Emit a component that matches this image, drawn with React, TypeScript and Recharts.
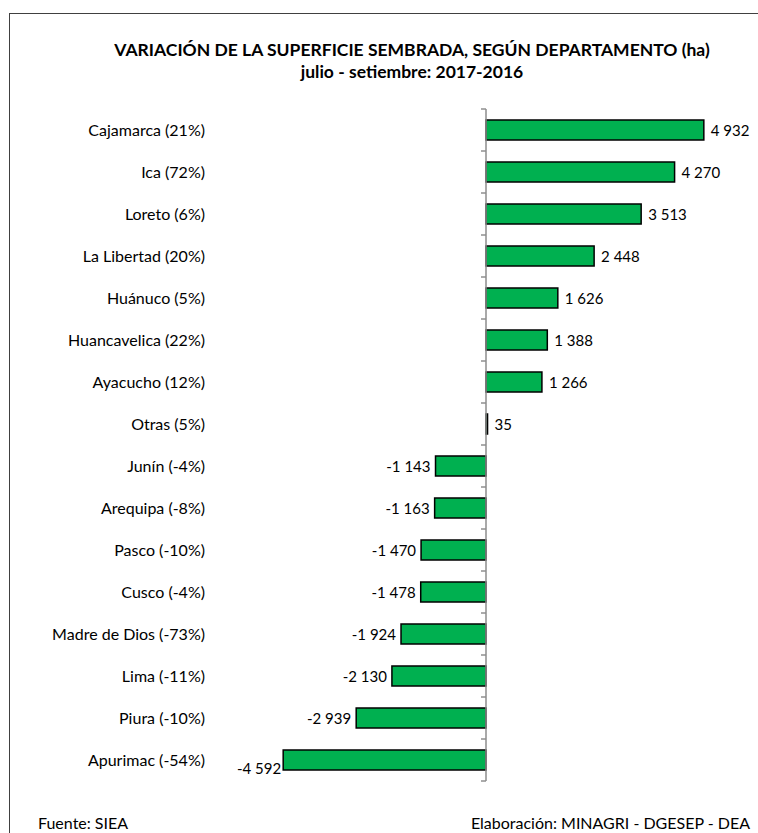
import React from 'react';
import { BarChart, Bar, XAxis, YAxis, ReferenceLine, LabelList } from 'recharts';

const departments = [
  'Cajamarca (21%)',
  'Ica (72%)',
  'Loreto (6%)',
  'La Libertad (20%)',
  'Huánuco (5%)',
  'Huancavelica (22%)',
  'Ayacucho (12%)',
  'Otras (5%)',
  'Junín (-4%)',
  'Arequipa (-8%)',
  'Pasco (-10%)',
  'Cusco (-4%)',
  'Madre de Dios (-73%)',
  'Lima (-11%)',
  'Piura (-10%)',
  'Apurimac (-54%)',
];
const variation = [4932, 4270, 3513, 2448, 1626, 1388, 1266, 35, -1143, -1163, -1470, -1478, -1924, -2130, -2939, -4592];
const xDomain = [-6000, 6000];
const titleLines = ['VARIACIÓN DE LA SUPERFICIE SEMBRADA, SEGÚN DEPARTAMENTO (ha)', 'julio - setiembre: 2017-2016'];
const sourceText = 'Fuente: SIEA';
const creditText = 'Elaboración: MINAGRI - DGESEP - DEA';

const data = departments.map((name, i) => ({ name, value: variation[i] }));

const W = 758;
const H = 833;
const M = { top: 109, right: 7, bottom: 52, left: 0 };
const Y_AXIS_W = 221;
const BAND = (H - M.top - M.bottom) / departments.length;
const FONT = 'Lato, "Liberation Sans", sans-serif';
const BAR_FILL = '#00B050';

const fmt = (v: number) => {
  const s = Math.abs(v).toString().replace(/\B(?=(\d{3})+(?!\d))/g, ' ');
  return (v < 0 ? '-' : '') + s;
};

function BarShape(props: any) {
  const { x, y, width, height, background, index } = props;
  const left = Math.min(x, x + width);
  const w = Math.abs(width);
  const v = props.payload ? props.payload.value : 0;
  const zero = background && background.width ? background.x + background.width / 2 : v >= 0 ? left : left + w;
  const cy = y + height / 2;
  const top = cy - BAND / 2;
  const isLast = index === data.length - 1;
  return (
    <g>
      <rect x={left} y={y} width={w} height={height} fill={BAR_FILL} stroke="#000" strokeWidth={1.5} />
      <line x1={zero - 5} x2={zero} y1={top} y2={top} stroke="#595959" strokeWidth={1} />
      {isLast && <line x1={zero - 5} x2={zero} y1={top + BAND} y2={top + BAND} stroke="#595959" strokeWidth={1} />}
    </g>
  );
}

function ValueLabel(props: any) {
  const { x, y, width, height, value, index } = props;
  const left = Math.min(x, x + width);
  const right = Math.max(x, x + width);
  const cy = y + height / 2;
  const pos = value >= 0;
  const isLast = index === data.length - 1;
  return (
    <text
      x={pos ? right + 7 : isLast ? left - 2 : left - 5}
      y={cy + (isLast ? 8 : 0)}
      textAnchor={pos ? 'start' : 'end'}
      dominantBaseline="central"
      fontFamily={FONT}
      fontSize={15}
      fill="#000"
    >
      {fmt(value)}
    </text>
  );
}

export default function App() {
  return (
    <div style={{ position: 'relative', width: W, height: H, overflow: 'hidden', background: '#fff' }}>
      <style>{'body{margin:0;overflow:hidden}'}</style>
      <div
        style={{
          position: 'absolute',
          left: 9,
          top: 13,
          width: 900,
          height: 900,
          borderTop: '1.5px solid #404040',
          borderLeft: '1.5px solid #404040',
        }}
      />
      <div style={{ position: 'absolute', left: 0, top: 0 }}>
        <BarChart width={W} height={H} data={data} layout="vertical" margin={M}>
          <XAxis type="number" domain={xDomain} hide allowDataOverflow />
          <YAxis
            type="category"
            dataKey="name"
            width={Y_AXIS_W}
            axisLine={false}
            tickLine={false}
            tickSize={0}
            tickMargin={16}
            interval={0}
            tick={{ fill: '#000', fontSize: 16, fontFamily: FONT }}
          />
          <ReferenceLine x={0} stroke="#8c8c8c" strokeWidth={1.5} />
          <Bar dataKey="value" barSize={20} shape={BarShape} isAnimationActive={false}>
            <LabelList dataKey="value" content={ValueLabel} />
          </Bar>
        </BarChart>
      </div>
      <svg width={W} height={H} style={{ position: 'absolute', left: 0, top: 0, pointerEvents: 'none' }}>
        <text x={412} y={56} textAnchor="middle" fontFamily={FONT} fontWeight="bold" fontSize={17.5} fill="#000">
          {titleLines[0]}
        </text>
        <text x={412} y={78} textAnchor="middle" fontFamily={FONT} fontWeight="bold" fontSize={17.5} fill="#000">
          {titleLines[1]}
        </text>
        <text x={38} y={829} fontFamily={FONT} fontSize={16} fill="#000">
          {sourceText}
        </text>
        <text x={750} y={829} textAnchor="end" fontFamily={FONT} fontSize={16} fill="#000">
          {creditText}
        </text>
      </svg>
    </div>
  );
}
